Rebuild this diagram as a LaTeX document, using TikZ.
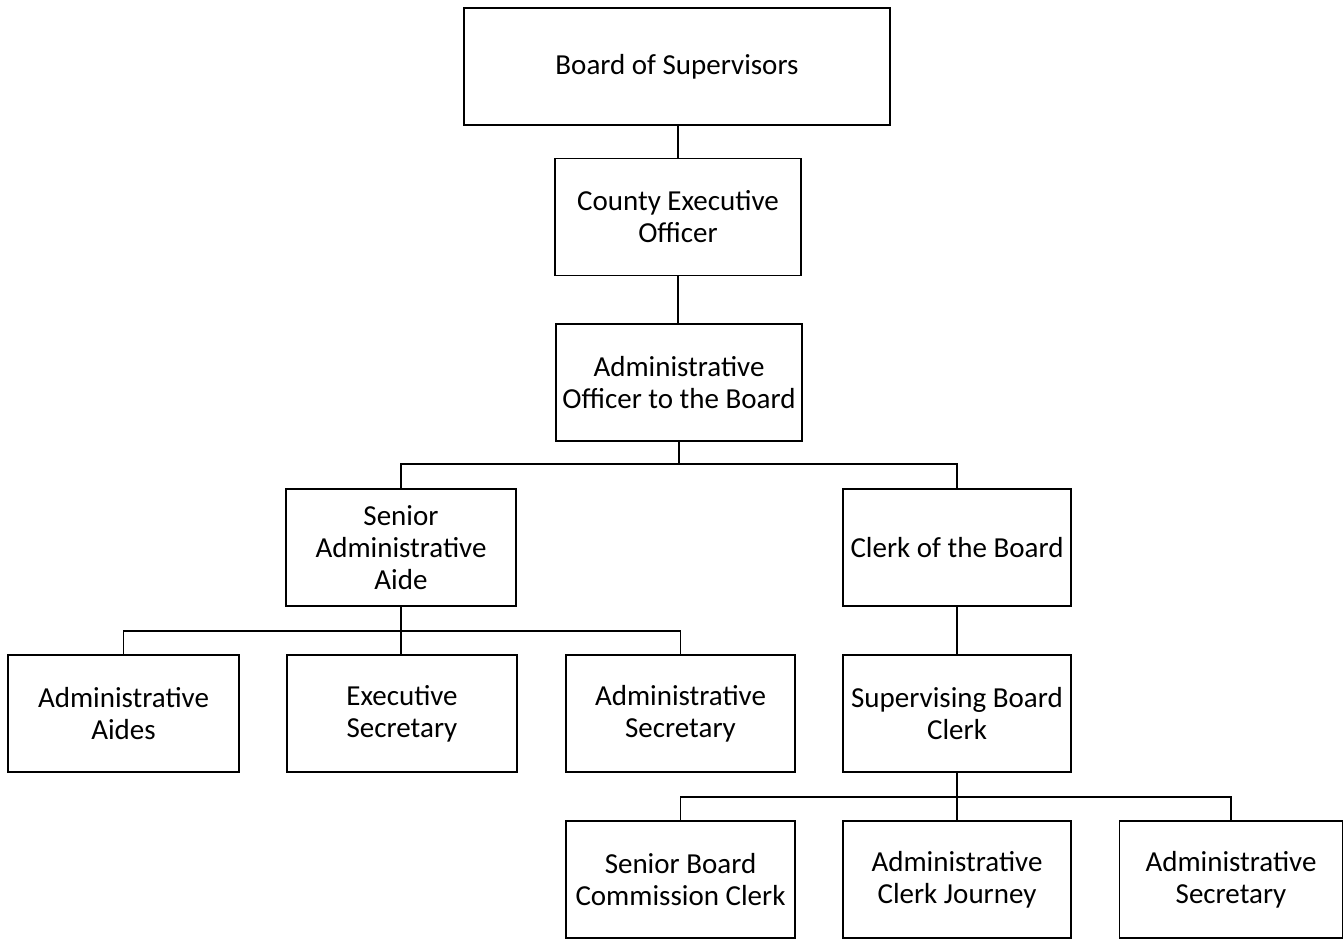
\documentclass[tikz,border=0pt]{standalone}
\usepackage{fontspec}
\setmainfont{Carlito}
\begin{document}
\begin{tikzpicture}[x=1pt,y=-1pt,
  box/.style={draw=black,line width=1.2pt,fill=white,align=center,inner sep=1pt,
    font=\fontsize{29}{32}\selectfont,minimum height=117pt},
  conn/.style={draw=black,line width=1.1pt}]
\useasboundingbox (0,0) rectangle (1343,938);
\node[box,minimum width=426pt] (bos) at (677,66.5) {Board of Supervisors};
\node[box,minimum width=246pt] (ceo) at (678,217) {County Executive\\Officer};
\node[box,minimum width=246pt] (ao) at (679,382.5) {Administrative\\Officer to the Board};
\node[box,minimum width=230pt] (saa) at (401,547.5) {Senior\\Administrative\\Aide};
\node[box,minimum width=228pt] (cob) at (957,547.5) {Clerk of the Board};
\node[box,minimum width=231pt] (aa) at (123.5,713.5) {Administrative\\Aides};
\node[box,minimum width=230pt] (es) at (402,713.5) {Executive\\Secretary};
\node[box,minimum width=229pt] (as1) at (680.5,713.5) {Administrative\\Secretary};
\node[box,minimum width=228pt] (sbc) at (957,713.5) {Supervising Board\\Clerk};
\node[box,minimum width=229pt] (sbcc) at (680.5,879.5) {Senior Board\\Commission Clerk};
\node[box,minimum width=228pt] (acj) at (957,879.5) {Administrative\\Clerk Journey};
\node[box,minimum width=223pt] (as2) at (1231,879.5) {Administrative\\Secretary};
\coordinate (j1) at (679,464);
\coordinate (j2) at (401,631);
\coordinate (j3) at (957,797);
\draw[conn] (ceo.north |- bos.south) -- (ceo.north);
\draw[conn] (ceo.south) -- (ceo.south |- ao.north);
\draw[conn] (ao.south) -- (j1);
\draw[conn] (j1) -| (saa.north);
\draw[conn] (j1) -| (cob.north);
\draw[conn] (saa.south) -- (j2);
\draw[conn] (j2) -| (aa.north);
\draw[conn] (j2) -- (j2 |- es.north);
\draw[conn] (j2) -| (as1.north);
\draw[conn] (cob.south) -- (sbc.north);
\draw[conn] (sbc.south) -- (j3);
\draw[conn] (j3) -| (sbcc.north);
\draw[conn] (j3) -- (acj.north);
\draw[conn] (j3) -| (as2.north);
\end{tikzpicture}
\end{document}
